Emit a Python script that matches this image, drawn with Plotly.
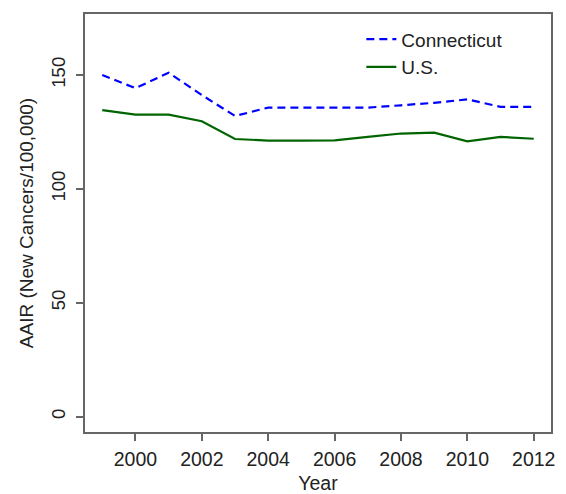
import plotly.graph_objects as go

years = list(range(1999, 2013))
connecticut = [150.0, 144.2, 151.0, 141.2, 132.0, 135.7, 135.7, 135.7, 135.7, 136.7, 137.8, 139.3, 136.0, 136.0]
us = [134.6, 132.6, 132.6, 129.7, 121.9, 121.2, 121.2, 121.3, 122.8, 124.3, 124.7, 120.9, 122.8, 122.0]

y_ticks = [0, 50, 100, 150]
x_ticks = list(range(2000, 2013, 2))

font = "Liberation Sans, Arial, sans-serif"
txt = "#222222"

fig = go.Figure()
fig.add_trace(go.Scatter(x=years, y=connecticut, mode="lines", name="Connecticut",
                         line=dict(color="#0000FF", width=2.2, dash="8px,5px")))
fig.add_trace(go.Scatter(x=years, y=us, mode="lines", name="U.S.",
                         line=dict(color="#006400", width=2.2)))

axis_common = dict(showline=True, mirror=True, linecolor="#666666", linewidth=1.5,
                   ticks="outside", ticklen=7, tickcolor="#666666", tickwidth=1.5,
                   showgrid=False, zeroline=False, automargin=False)

fig.update_layout(
    width=566, height=494,
    margin=dict(l=85, r=15, t=14, b=62),
    paper_bgcolor="white", plot_bgcolor="white",
    font=dict(family=font, color=txt),
    xaxis=dict(range=[1998.48, 2012.52], tickvals=x_ticks,
               tickfont=dict(family=font, size=19.5, color=txt), ticklabelstandoff=2,
               title=dict(text="Year", font=dict(family=font, size=19.5, color=txt), standoff=8),
               **axis_common),
    yaxis=dict(range=[-6.8, 176.8], tickvals=y_ticks, tickangle=-90,
               tickfont=dict(family=font, size=18.5, color=txt), ticklabelstandoff=4,
               title=dict(text="AAIR (New Cancers/100,000)", font=dict(family=font, size=19, color=txt), standoff=9),
               **axis_common),
    legend=dict(x=0.593, y=0.985, xanchor="left", yanchor="top",
                bgcolor="rgba(0,0,0,0)", font=dict(family=font, size=19, color=txt),
                tracegroupgap=0, itemwidth=30),
    showlegend=True,
)

fig.write_html("out.html", config={"displayModeBar": False},
               post_script="document.body.style.margin='0';document.body.style.padding='0';")
